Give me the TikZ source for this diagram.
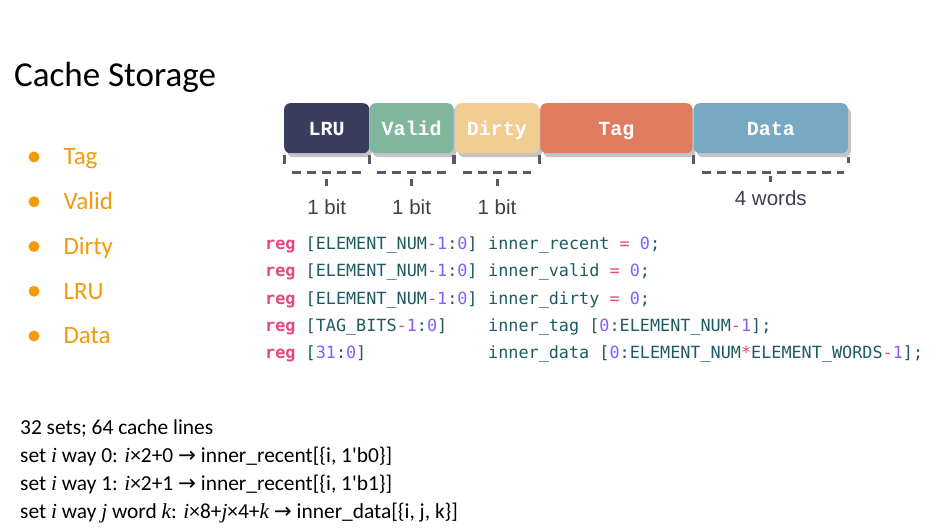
\documentclass[tikz,border=0pt]{standalone}
\usepackage{fontspec}
\setmainfont{Carlito}
\newfontfamily\codefont{DejaVu Sans Mono}
\newfontfamily\boxfont{Liberation Mono}
\newfontfamily\notefont{Liberation Sans}
\newfontfamily\symfont{DejaVu Sans}
\newfontfamily\varfont{Liberation Serif}
\usepackage{xcolor}
\usetikzlibrary{positioning,shadows}
\definecolor{lruc}{HTML}{3B3D5E}
\definecolor{valc}{HTML}{80B79C}
\definecolor{dirc}{HTML}{F2CD91}
\definecolor{tagc}{HTML}{E07B5F}
\definecolor{datc}{HTML}{78A9C3}
\definecolor{shdc}{HTML}{C4C4C4}
\definecolor{brcc}{HTML}{595A66}
\definecolor{notec}{HTML}{3E3F4F}
\definecolor{bulc}{HTML}{F49A0C}
\definecolor{kwc}{HTML}{E8467C}
\definecolor{idc}{HTML}{1E5A63}
\definecolor{numc}{HTML}{7B61FF}
\newcommand\ckw[1]{{\color{kwc}\bfseries #1}}
\newcommand\cnum[1]{{\color{numc}#1}}
\newcommand\cop[1]{{\color{kwc}#1}}
\newcommand\var[1]{{\varfont\itshape #1}}
\newcommand\rarr{{\symfont\char"2192}}

\begin{document}
\begin{tikzpicture}[x=1pt,y=-1pt,
 fld/.style={rounded corners=6pt,minimum height=50pt,inner sep=0pt,text=white,
  text height=19pt,text depth=4pt,font=\boxfont\bfseries\fontsize{20}{24}\selectfont,
  drop shadow={shadow xshift=3pt,shadow yshift=-4pt,fill=shdc,opacity=1}},
 brc/.style={draw=brcc,line width=3pt,dash pattern=on 9pt off 6pt},
 lbl/.style={text=notec,font=\notefont\fontsize{20.5}{24}\selectfont},
 dot/.style={circle,fill=bulc,minimum size=11pt,inner sep=0pt},
 item/.style={anchor=base west,text=bulc,font=\fontsize{25}{29}\selectfont},
 code/.style={anchor=base west,inner sep=0pt,text=idc,font=\codefont\fontsize{16.8}{20}\selectfont},
 note/.style={anchor=base west,inner sep=0pt,font=\fontsize{21.4}{25}\selectfont}]
\useasboundingbox (0,0) rectangle (940,529);

\node[anchor=base west,inner sep=0pt,font=\fontsize{35}{40}\selectfont] (title) at (14,87) {Cache Storage};

% bullet list
\foreach \t [count=\i] in {Tag,Valid,Dirty,LRU,Data} {
 \node[dot] (d\i) at (34,{157+44.75*(\i-1)}) {};
 \node[item] (it\i) at (60,{165+44.75*(\i-1)}) {\t};
}

% storage fields
\node[fld,fill=lruc,minimum width=85pt,anchor=north west] (lru) at (284,103) {LRU};
\node[fld,fill=valc,minimum width=84pt,right=0pt of lru] (valid) {Valid};
\node[fld,fill=dirc,minimum width=84pt,right=1pt of valid] (dirty) {Dirty};
\node[fld,fill=tagc,minimum width=152pt,right=1pt of dirty] (tag) {Tag};
\node[fld,fill=datc,minimum width=154pt,right=1pt of tag] (data) {Data};

\foreach \b in {lru,valid,dirty} {
 \draw[brc] ([yshift=-2pt]\b.south west) -- ++(0,9);
 \draw[brc] ([yshift=-2pt]\b.south east) -- ++(0,9);
 \draw[brc] ([xshift=8pt,yshift=-19pt]\b.south west) -- ([xshift=-8pt,yshift=-19pt]\b.south east);
 \draw[brc] ([yshift=-26pt]\b.south) -- ++(0,7);
 \node[lbl] (w\b) at ([yshift=-54pt]\b.south) {1 bit};
}
\draw[brc] ([yshift=-2pt]data.south west) -- ++(0,9);
\draw[brc] ([yshift=-4pt]data.south east) -- ++(0,6);
\draw[brc] ([xshift=8pt,yshift=-19pt]data.south west) -- ([xshift=-4pt,yshift=-19pt]data.south east);
\draw[brc] ([yshift=-23pt]data.south) -- ++(0,6);
\node[lbl] (wdata) at ([yshift=-45pt]data.south) {4 words};

% verilog declarations
\node[code] (c1) at (265,250) {\ckw{reg} [ELEMENT\_NUM\cop{-}\cnum{1}:\cnum{0}]};
\node[code] (n1) at (488,250) {inner\_recent \cop{=} \cnum{0};};
\node[code] (c2) at (265,277) {\ckw{reg} [ELEMENT\_NUM\cop{-}\cnum{1}:\cnum{0}]};
\node[code] (n2) at (488,277) {inner\_valid \cop{=} \cnum{0};};
\node[code] (c3) at (265,305) {\ckw{reg} [ELEMENT\_NUM\cop{-}\cnum{1}:\cnum{0}]};
\node[code] (n3) at (488,305) {inner\_dirty \cop{=} \cnum{0};};
\node[code] (c4) at (265,332) {\ckw{reg} [TAG\_BITS\cop{-}\cnum{1}:\cnum{0}]};
\node[code] (n4) at (488,332) {inner\_tag [\cnum{0}:ELEMENT\_NUM\cop{-}\cnum{1}];};
\node[code] (c5) at (265,359) {\ckw{reg} [\cnum{31}:\cnum{0}]};
\node[code] (n5) at (488,359) {inner\_data [\cnum{0}:ELEMENT\_NUM\cop{*}ELEMENT\_WORDS\cop{-}\cnum{1}];};

% index mapping
\node[note] (m1) at (20,434) {32 sets; 64 cache lines};
\node[note] (m2) at (20,462) {set \var{i} way 0: \var{i}×2+0 \rarr{} inner\_recent[\{i, 1\textquotesingle b0\}]};
\node[note] (m3) at (20,490) {set \var{i} way 1: \var{i}×2+1 \rarr{} inner\_recent[\{i, 1\textquotesingle b1\}]};
\node[note] (m4) at (20,518) {set \var{i} way \var{j} word \var{k}: \var{i}×8+\var{j}×4+\var{k} \rarr{} inner\_data[\{i, j, k\}]};
\end{tikzpicture}
\end{document}
